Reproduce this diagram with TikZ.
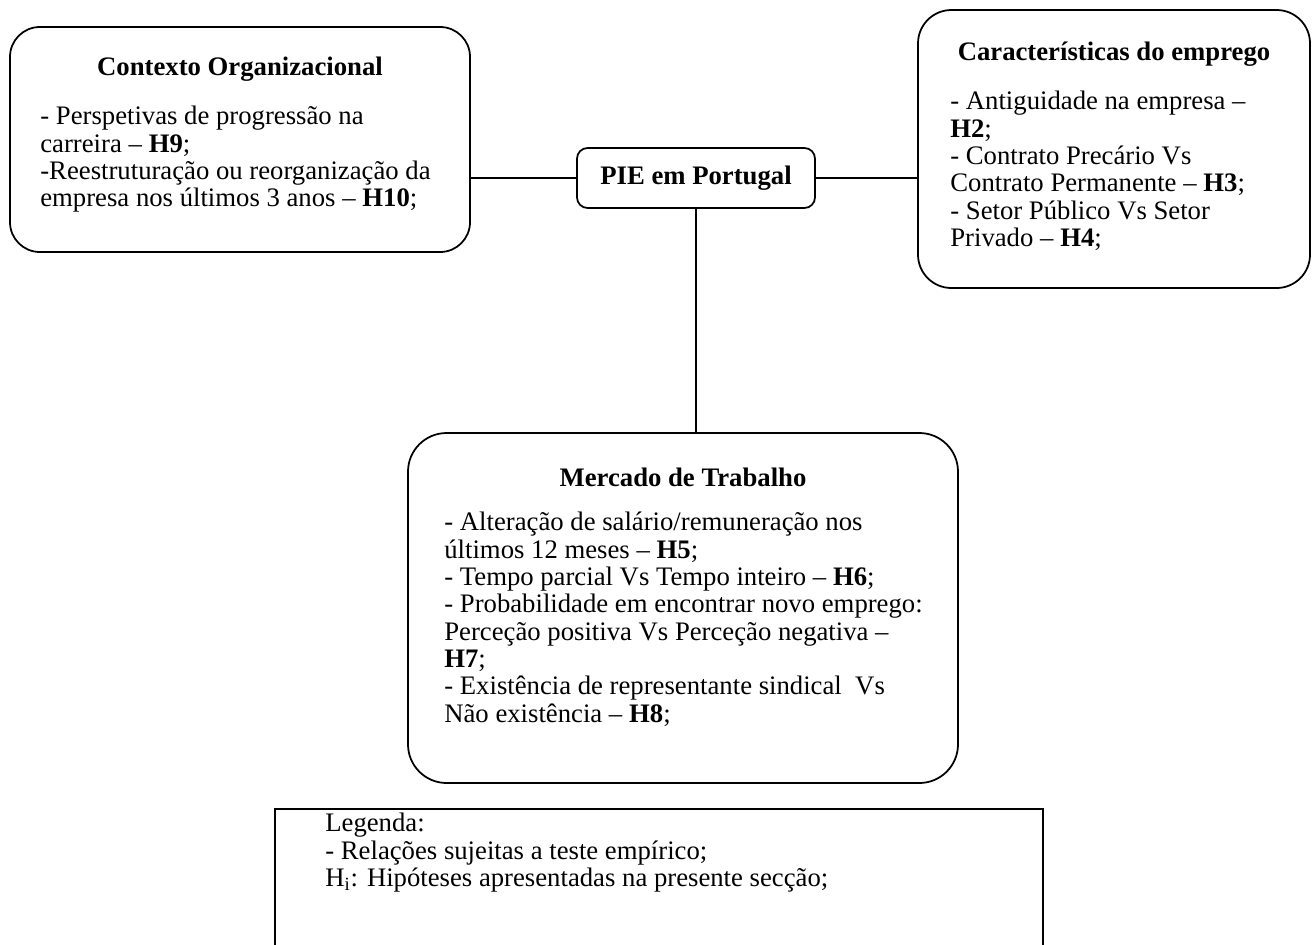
\documentclass[tikz,border=0pt]{standalone}
\usepackage{fontspec}
\setmainfont{Liberation Serif}
\usetikzlibrary{positioning,fit,calc}
\newcommand{\schrift}{\fontsize{15.2}{15.55}\selectfont}
\tikzset{
  kasten/.style={draw,line width=1pt,inner sep=0pt,rounded corners=#1},
  kasten/.default=16pt,
  titel/.style={font=\schrift\bfseries,inner sep=0pt,anchor=base},
  inhalt/.style={align=left,inner sep=0pt,anchor=north west},
  linie/.style={line width=1pt},
}

\begin{document}
\begin{tikzpicture}[x=0.02cm,y=-0.02cm,font=\schrift]
\clip (0,0) rectangle (1312,944);
%Kaesten in Pixelkoordinaten (y nach unten)
\node[kasten=17pt,fit={(10,27) (470,252)}] (kontext) {};
\node[kasten=6pt,minimum width=4.76cm,minimum height=1.2cm,font=\schrift\bfseries] (pie) at (696,178) {PIE em Portugal};
\node[kasten=19pt,fit={(918,10) (1310,288)}] (merkmal) {};
\node[kasten=22pt,fit={(408,433) (958,783)}] (markt) {};
\node[draw,line width=1pt,inner sep=0pt,fit={(275,809) (1043,970)}] (legende) {};

\node[titel] (kontextTitel) at (240,75) {Contexto Organizacional};
\node[inhalt] (kontextText) at (40,106) {- Perspetivas de progressão na\\carreira – \textbf{H9};\\-Reestruturação ou reorganização da\\empresa nos últimos 3 anos – \textbf{H10};};

\node[titel] (merkmalTitel) at (1114,60) {Características do emprego};
\node[inhalt] (merkmalText) at (950,91) {- Antiguidade na empresa –\\\textbf{H2};\\- Contrato Precário Vs\\Contrato Permanente – \textbf{H3};\\- Setor Público Vs Setor\\Privado – \textbf{H4};};

\node[titel] (marktTitel) at (683,486) {Mercado de Trabalho};
\node[inhalt] (marktText) at (444,512) {- Alteração de salário/remuneração nos\\últimos 12 meses – \textbf{H5};\\- Tempo parcial Vs Tempo inteiro – \textbf{H6};\\- Probabilidade em encontrar novo emprego:\\Perceção positiva Vs Perceção negativa –\\\textbf{H7};\\- Existência de representante sindical\ \ Vs\\Não existência – \textbf{H8};};

\node[inhalt] (legendeText) at (325,813) {Legenda:\\- Relações sujeitas a teste empírico;\\H\textsubscript{i}: Hipóteses apresentadas na presente secção;};

%Verbindungen
\draw[linie] (pie.west -| kontext.east) -- (pie.west);
\draw[linie] (pie.east) -- (pie.east -| merkmal.west);
\draw[linie] (pie.south) -- (pie.south |- markt.north);
\end{tikzpicture}
\end{document}
